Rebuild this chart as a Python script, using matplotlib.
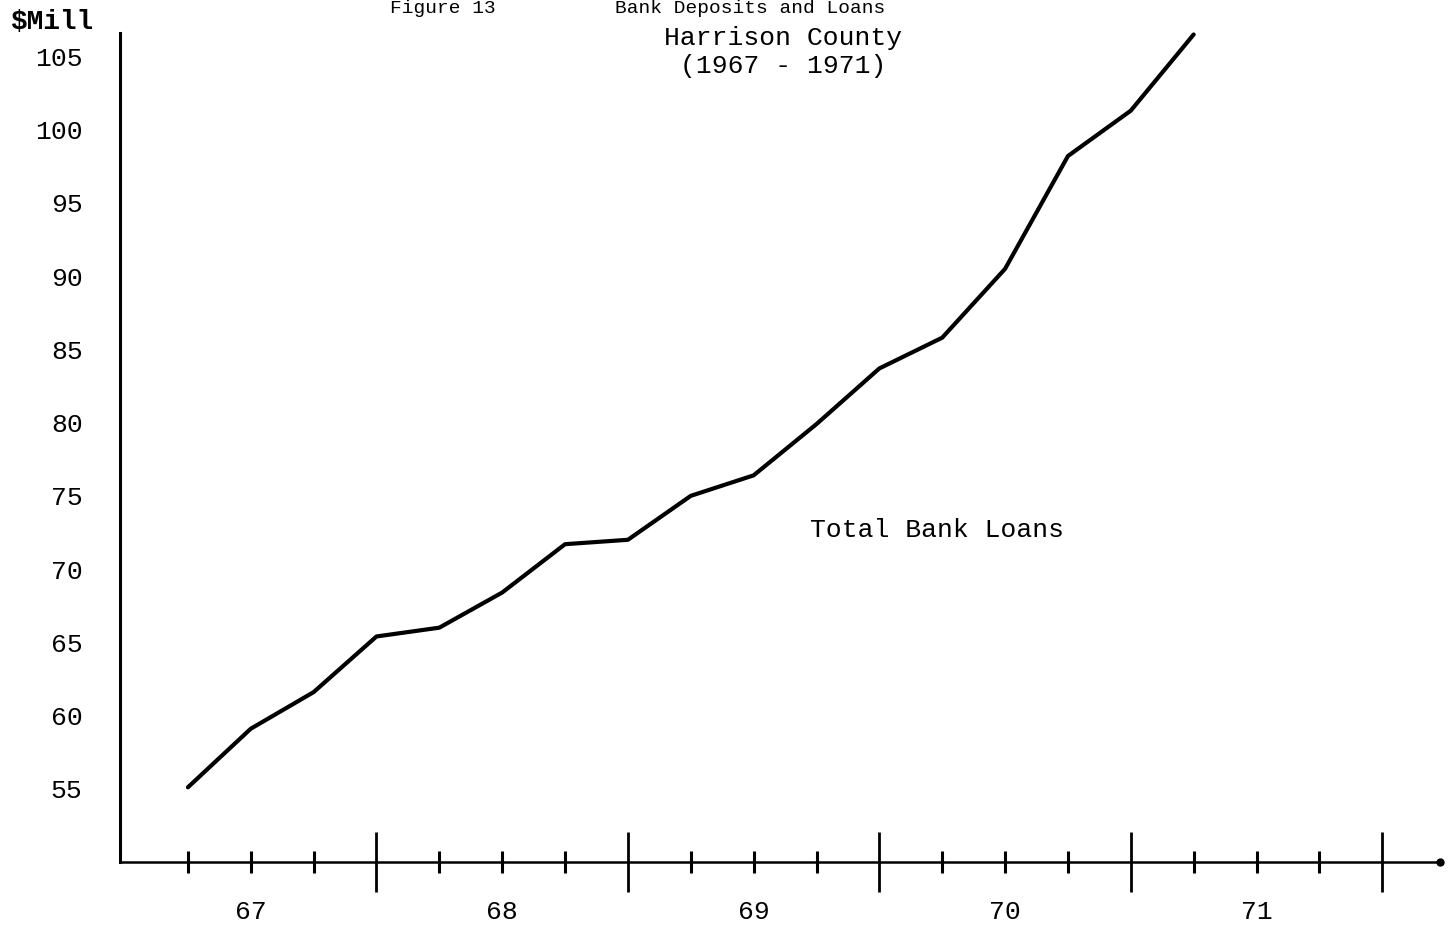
import numpy as np
import matplotlib
matplotlib.use("Agg")
import matplotlib.pyplot as plt

# quarterly totals, 1967 Q1 .. 1971 Q1 ($ millions)
quarter = np.arange(1, 18)
loans = [55.1, 59.1, 61.6, 65.4, 66.0, 68.4, 71.7, 72.0, 75.0,
         76.4, 79.9, 83.7, 85.8, 90.5, 98.2, 101.3, 106.5]

years = ['67', '68', '69', '70', '71']
year_mid = [2, 6, 10, 14, 18]
year_ends = [4, 8, 12, 16, 20]
quarter_ticks = [q for q in range(1, 21) if q % 4 != 0]
yticks = list(range(55, 110, 5))

plt.rcParams['font.family'] = ['Liberation Mono', 'DejaVu Sans Mono']

fig = plt.figure(figsize=(14.53, 9.30), dpi=100)
ax = fig.add_axes([0.0826, 0.0731, 0.9085, 0.8914])

ax.plot(quarter, loans, color='black', lw=3.0, solid_capstyle='round',
        solid_joinstyle='round', clip_on=False)

ax.set_xlim(-0.08, 20.92)
ax.set_ylim(50, 106.6)

ax.spines['top'].set_visible(False)
ax.spines['right'].set_visible(False)
ax.spines['left'].set_linewidth(2.2)
ax.spines['bottom'].set_linewidth(1.8)
ax.plot([1], [0], 'o', color='black', ms=5, transform=ax.transAxes, clip_on=False)

ax.set_xticks(year_ends)
ax.set_xticklabels([])
ax.set_xticks(quarter_ticks, minor=True)
ax.tick_params(axis='x', which='major', direction='inout', length=43, width=2.0)
ax.tick_params(axis='x', which='minor', direction='inout', length=16, width=2.2)

ax.set_yticks(yticks)
ax.set_yticklabels([str(v) for v in yticks])
ax.tick_params(axis='y', length=0, pad=27, labelsize=19)

for lab, xm in zip(years, year_mid):
    ax.annotate(lab, xy=(xm, 0), xycoords=('data', 'axes fraction'),
                xytext=(0, -36), textcoords='offset points',
                ha='center', va='center', fontsize=19)

ax.text(0.523, 0.4005, 'Total Bank Loans', transform=ax.transAxes,
        ha='left', va='center', fontsize=19)

fig.text(10 / 1453, 1 - 22 / 930, r'\$Mill', ha='left', va='center',
         fontsize=20, fontweight='bold')
fig.text(390 / 1453, 1.0, 'Figure 13', ha='left', va='top', fontsize=14)
fig.text(615 / 1453, 1.0, 'Bank Deposits and Loans', ha='left', va='top', fontsize=14)
fig.text(783 / 1453, 1 - 38 / 930, 'Harrison County', ha='center', va='center', fontsize=19)
fig.text(783 / 1453, 1 - 66 / 930, '(1967 - 1971)', ha='center', va='center', fontsize=19)

fig.savefig('out.png', dpi=100, facecolor='white')
